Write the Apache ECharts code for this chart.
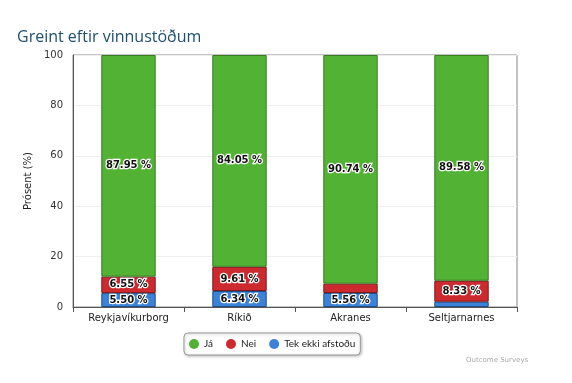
<!DOCTYPE html>
<html>
<head>
<meta charset="utf-8">
<script src="https://cdn.jsdelivr.net/npm/echarts@6/dist/echarts.min.js"></script>
<style>html,body{margin:0;padding:0;background:#fff;}#c{width:572px;height:383px;}</style>
</head>
<body>
<div id="c"></div>
<script>
var categories = ['Reykjavíkurborg', 'Ríkið', 'Akranes', 'Seltjarnarnes'];
var seriesNames = ['Já', 'Nei', 'Tek ekki afstoðu'];
var jaValues = [87.95, 84.05, 90.74, 89.58];
var neiValues = [6.55, 9.61, 3.70, 8.33];
var tekValues = [5.50, 6.34, 5.56, 2.08];
var yTicks = [0, 20, 40, 60, 80, 100];

var colors = ['#52b234', '#cc2a2e', '#3b82d8'];
var borders = ['#3a7a22', '#7a1a1c', '#1f4f8a'];

function mk(name, data, idx) {
  return {
    name: name, type: 'bar', stack: 'a', data: data, barWidth: '49%',
    itemStyle: { color: colors[idx], borderColor: borders[idx], borderWidth: 1 },
    label: {
      show: true, position: 'inside',
      formatter: function (p) { return p.value > 5 ? p.value.toFixed(2) + ' %' : ''; },
      color: '#111', fontSize: 10, fontFamily: 'DejaVu Sans', fontWeight: 'bold',
      textBorderColor: '#fff', textBorderWidth: 2.5
    },
    emphasis: { disabled: true }
  };
}

var chart = echarts.init(document.getElementById('c'), null, { renderer: 'canvas' });
chart.setOption({
  animation: false,
  title: [{
    text: 'Greint eftir vinnustöðum', left: 12, top: 24,
    textStyle: { color: '#1d4f6e', fontSize: 16, fontWeight: 'normal', fontFamily: 'Open Sans' }
  }, {
    text: 'Outcome Surveys', left: 461, top: 352,
    textStyle: { color: '#aaa', fontSize: 7, fontWeight: 'normal', fontFamily: 'DejaVu Sans' }
  }],
  grid: { left: 73, right: 55, top: 55, bottom: 76, show: true, borderColor: '#888', borderWidth: 1 },
  legend: {
    data: seriesNames, left: 184, top: 333,
    icon: 'circle', itemWidth: 10, itemHeight: 10, itemGap: 13,
    itemStyle: { borderWidth: 0 },
    borderColor: '#999', borderWidth: 1, borderRadius: 4, padding: [6, 5],
    shadowColor: 'rgba(0,0,0,0.25)', shadowBlur: 3, shadowOffsetX: 1, shadowOffsetY: 1,
    backgroundColor: '#fff',
    textStyle: { fontSize: 10, color: '#222', fontFamily: 'Lato' }
  },
  xAxis: {
    type: 'category', data: categories,
    axisLine: { lineStyle: { color: '#555' } },
    axisTick: { show: true, length: 5, lineStyle: { color: '#555' } },
    axisLabel: { color: '#222', fontSize: 10, fontFamily: 'DejaVu Sans', margin: 6 }
  },
  yAxis: {
    type: 'value', min: 0, max: 100, interval: 20,
    name: 'Prósent (%)', nameLocation: 'middle', nameGap: 34,
    nameTextStyle: { color: '#222', fontSize: 10, fontFamily: 'DejaVu Sans' },
    axisLine: { show: true, lineStyle: { color: '#555' } },
    axisTick: { show: false },
    axisLabel: { color: '#333', fontSize: 10, fontFamily: 'DejaVu Sans', margin: 10,
      formatter: function (v) { return yTicks.indexOf(v) >= 0 ? String(v) : ''; } },
    splitLine: { lineStyle: { color: '#eee' } }
  },
  series: [
    mk(seriesNames[2], tekValues, 2),
    mk(seriesNames[1], neiValues, 1),
    mk(seriesNames[0], jaValues, 0)
  ]
});
</script>
</body>
</html>
